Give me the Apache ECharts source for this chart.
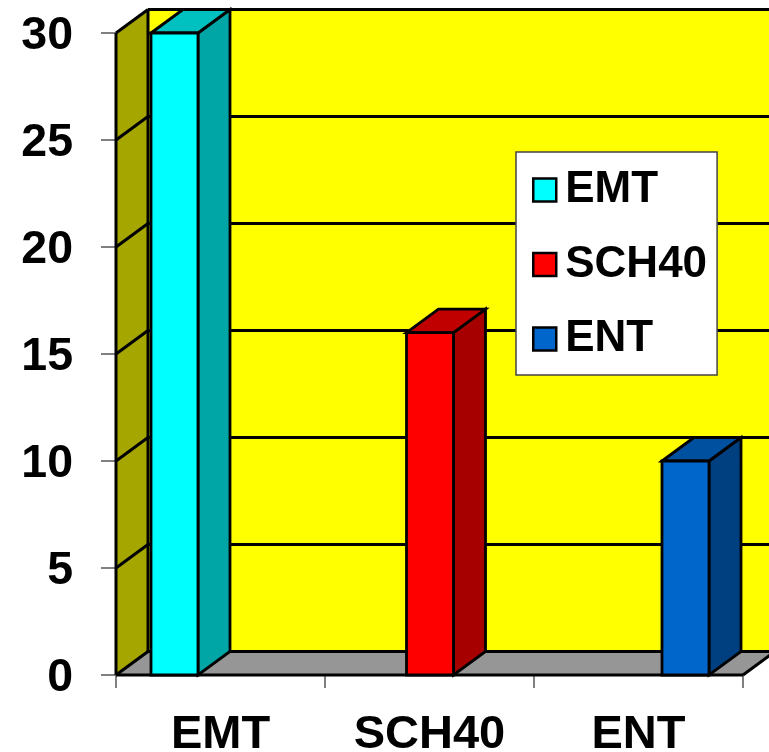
<!DOCTYPE html>
<html>
<head>
<meta charset="utf-8">
<style>html,body{margin:0;padding:0;background:#fff}#c{width:769px;height:752px}</style>
<script src="https://cdn.jsdelivr.net/npm/echarts@6/dist/echarts.min.js"></script>
</head>
<body>
<div id="c"></div>
<script>
const categories = ['EMT', 'SCH40', 'ENT'];
const seriesNames = ['EMT', 'SCH40', 'ENT'];
const emtValues = [30, null, null];
const sch40Values = [null, 16, null];
const entValues = [null, null, 10];
const yTicks = [0, 5, 10, 15, 20, 25, 30];

const frontColors = ['#00FFFF', '#FF0000', '#0066CC'];
const sideColors = ['#00A6A6', '#A60000', '#004080'];
const topColors = ['#00C0C0', '#C00000', '#0050A0'];
const depthX = 32, depthY = -23.5;
const EDGE = '#000';

const chart = echarts.init(document.getElementById('c'), null, {renderer: 'canvas'});

function poly(points, fill, lw, z2) {
  return {type: 'polygon', shape: {points}, z2: z2 || 0,
    style: {fill, stroke: EDGE, lineWidth: lw === undefined ? 2 : lw, lineJoin: 'miter'}};
}
function line(x1, y1, x2, y2, lw, z2, stroke) {
  return {type: 'line', shape: {x1, y1, x2, y2}, z2: z2 || 0,
    style: {stroke: stroke || EDGE, lineWidth: lw}};
}

function renderWalls(params, api) {
  const g = params.coordSys;
  const l = g.x, r = g.x + g.width;
  const y0 = api.coord([0, 0])[1], yMax = api.coord([0, yTicks[yTicks.length - 1]])[1];
  const kids = [];
  kids.push(poly([[l + depthX, yMax + depthY], [r + depthX, yMax + depthY], [r + depthX, y0 + depthY], [l + depthX, y0 + depthY]], '#FFFF00', 0, 1));
  kids.push(poly([[l, yMax], [l + depthX, yMax + depthY], [l + depthX, y0 + depthY], [l, y0]], '#A6A600', 0, 2));
  kids.push(poly([[l, y0], [l + depthX, y0 + depthY], [r + depthX, y0 + depthY], [r, y0]], '#969696', 0, 2));
  yTicks.forEach(t => {
    const y = api.coord([0, t])[1];
    kids.push(line(l, y, l + depthX, y + depthY, 3, 3));
    kids.push(line(l + depthX, y + depthY, r + depthX, y + depthY, 3, 3));
  });
  kids.push(line(l, yMax, l, y0, 3, 4));
  kids.push(line(l + depthX, yMax + depthY, l + depthX, y0 + depthY, 3, 4));
  kids.push(line(l, y0, r, y0, 3, 4));
  kids.push(line(r, y0, r + depthX, y0 + depthY, 3, 4));
  return {type: 'group', children: kids};
}

function makeBarRenderer(slot) {
  return function (params, api) {
    const v = api.value(1);
    if (v === null || v === undefined || isNaN(v)) return null;
    const idx = api.value(0);
    const top = api.coord([idx, v]);
    const bottom = api.coord([idx, 0]);
    const band = api.size([1, 0])[0];
    const w = band * 0.2249;
    const cx = top[0] + (slot - 1) * band * 0.2225 + 0.5;
    const a = cx - w / 2, b = cx + w / 2;
    const yT = top[1], yB = bottom[1];
    return {type: 'group', children: [
      poly([[b, yT], [b + depthX, yT + depthY], [b + depthX, yB + depthY], [b, yB]], sideColors[slot], 2.8, 1),
      poly([[a, yT], [a + depthX, yT + depthY], [b + depthX, yT + depthY], [b, yT]], topColors[slot], 2.8, 1),
      poly([[a, yT], [b, yT], [b, yB], [a, yB]], frontColors[slot], 2.8, 2)
    ]};
  };
}

const seriesValues = [emtValues, sch40Values, entValues];

chart.setOption({
  animation: false,
  backgroundColor: '#fff',
  textStyle: {fontFamily: '"Liberation Sans", Arial, sans-serif'},
  grid: {left: 116, right: 26, top: 33, bottom: 77, containLabel: false, outerBoundsMode: 'none'},
  legend: {
    data: seriesNames,
    orient: 'vertical',
    left: 516, top: 152,
    backgroundColor: '#fff',
    borderColor: '#444', borderWidth: 1.5, borderRadius: 0,
    padding: [15, 10, 13, 16],
    icon: 'rect',
    itemWidth: 23, itemHeight: 23, itemGap: 28.5,
    itemStyle: {borderColor: '#000', borderWidth: 2.5},
    inactiveBorderWidth: 2,
    selectedMode: false,
    textStyle: {fontFamily: '"Liberation Sans", Arial, sans-serif', fontWeight: 'bold', fontSize: 44, color: '#000', lineHeight: 44, padding: [2, 0, 0, 4]}
  },
  xAxis: {
    type: 'category', data: categories,
    axisLine: {show: true, onZero: false, lineStyle: {color: '#808080', width: 2}},
    axisTick: {show: true, length: 13, lineStyle: {color: '#808080', width: 2}},
    axisLabel: {color: '#000', fontWeight: 'bold', fontSize: 47, margin: 37, fontFamily: '"Liberation Sans", Arial, sans-serif'}
  },
  yAxis: {
    type: 'value', min: 0, max: 30, interval: 5,
    splitLine: {show: false},
    axisLine: {show: true, lineStyle: {color: '#808080', width: 2}},
    axisTick: {show: true, length: 15, lineStyle: {color: '#808080', width: 2}},
    axisLabel: {color: '#000', fontWeight: 'bold', fontSize: 46.5, margin: 43, verticalAlign: 'top', lineHeight: 6, fontFamily: '"Liberation Sans", Arial, sans-serif'}
  },
  series: [
    {type: 'custom', name: 'walls', z: 3, silent: true, clip: false, renderItem: renderWalls, data: [[0, 0]], encode: {x: 0, y: 1}},
    ...seriesNames.map((name, i) => ({
      type: 'custom', name, z: 5 + i, clip: false,
      itemStyle: {color: frontColors[i]},
      renderItem: makeBarRenderer(i),
      encode: {x: 0, y: 1},
      data: seriesValues[i].map((v, k) => [k, v])
    }))
  ]
});
</script>
</body>
</html>
